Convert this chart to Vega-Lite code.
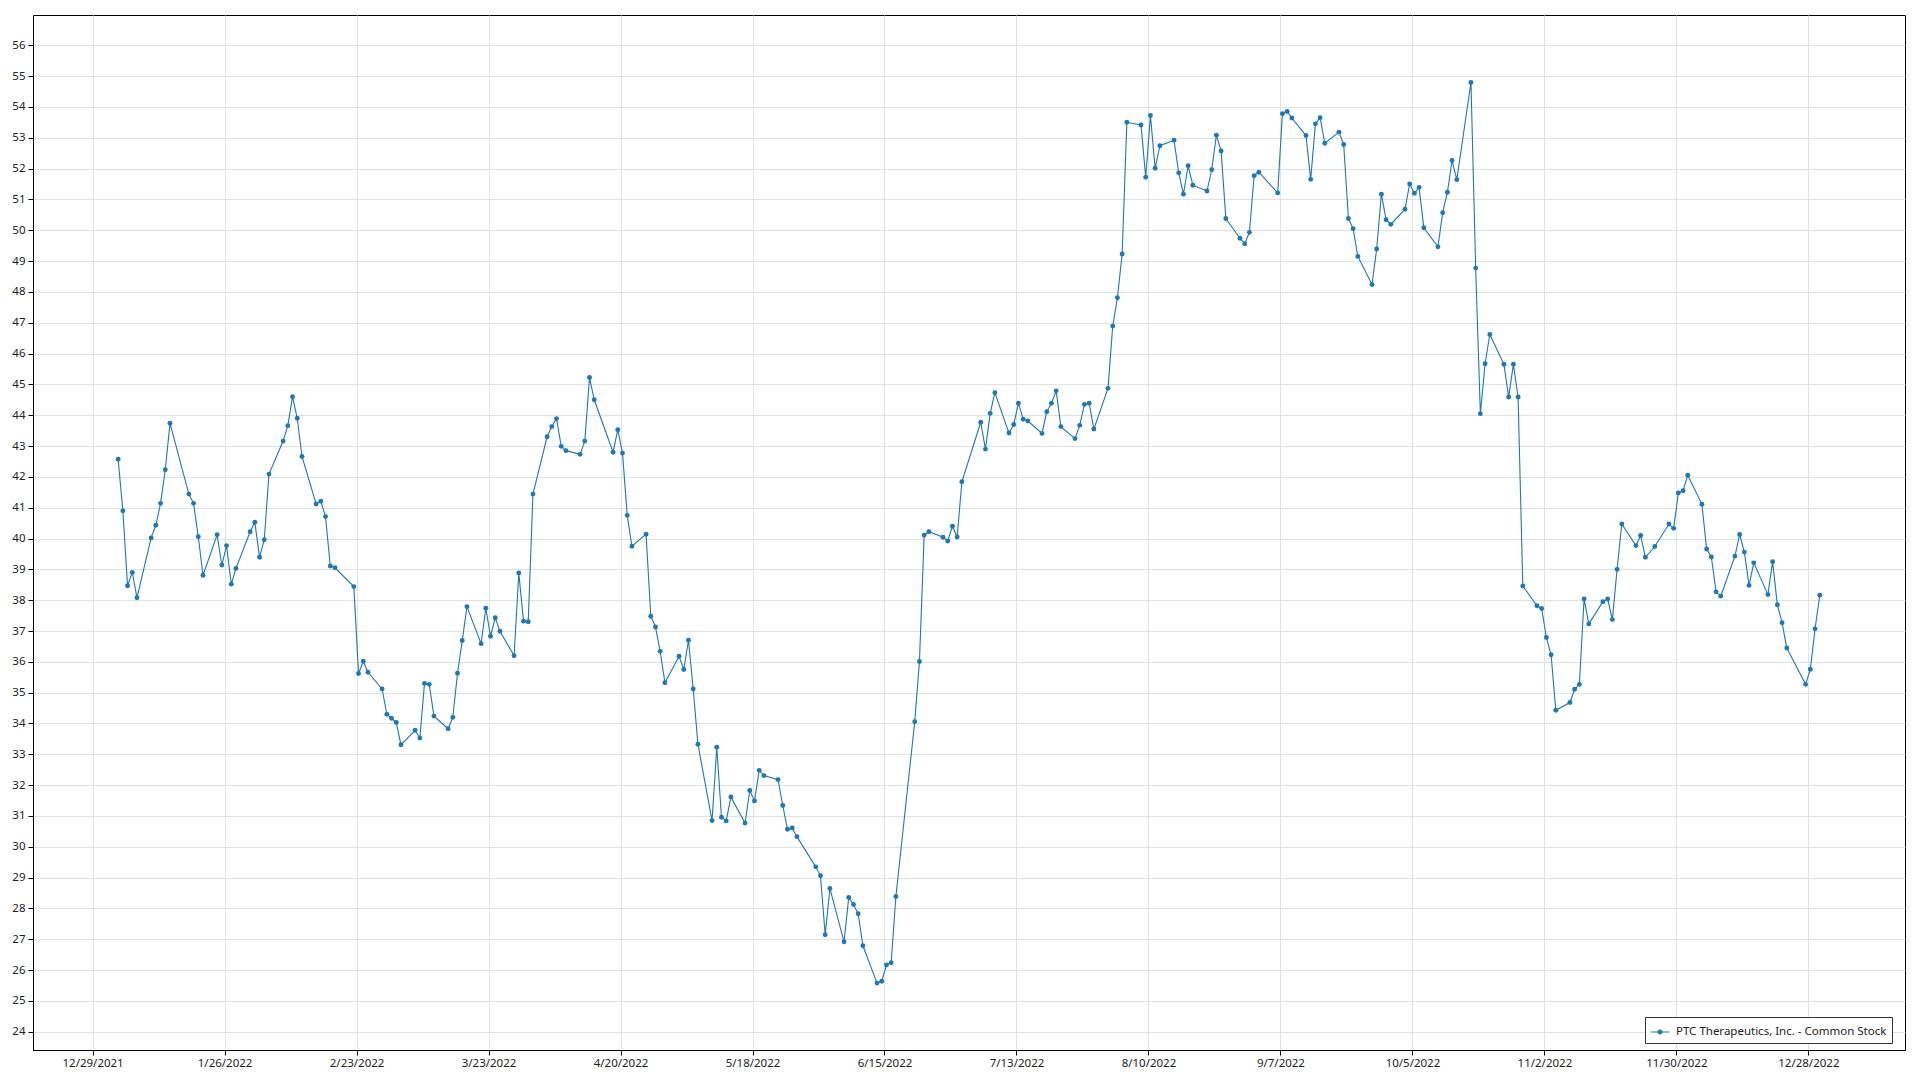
{
  "$schema": "https://vega.github.io/schema/vega-lite/v6.json",
  "width": 1872,
  "height": 1035,
  "autosize": {"type": "none"},
  "padding": {"left": 33, "top": 15, "right": 15, "bottom": 30},
  "background": "#ffffff",
  "config": {
    "view": {"stroke": "#000000", "strokeWidth": 1},
    "font": "Noto Sans",
    "axis": {
      "labelFont": "Noto Sans",
      "labelFontSize": 11.5,
      "labelColor": "#222222",
      "domainColor": "#000000",
      "domainWidth": 1,
      "tickColor": "#000000",
      "gridColor": "#e2e2e2",
      "gridWidth": 1,
      "title": null,
      "labelOverlap": false,
      "labelFlush": false
    }
  },
  "data": {"values": [
    {"d":"2022-01-03T10:00","v":42.57},{"d":"2022-01-04T10:00","v":40.90},{"d":"2022-01-05T10:00","v":38.47},{"d":"2022-01-06T10:00","v":38.90},{"d":"2022-01-07T10:00","v":38.08},
    {"d":"2022-01-10T10:00","v":40.02},{"d":"2022-01-11T10:00","v":40.43},{"d":"2022-01-12T10:00","v":41.14},{"d":"2022-01-13T10:00","v":42.23},{"d":"2022-01-14T10:00","v":43.74},
    {"d":"2022-01-18T10:00","v":41.44},{"d":"2022-01-19T10:00","v":41.14},{"d":"2022-01-20T10:00","v":40.06},{"d":"2022-01-21T10:00","v":38.81},
    {"d":"2022-01-24T10:00","v":40.12},{"d":"2022-01-25T10:00","v":39.14},{"d":"2022-01-26T10:00","v":39.77},{"d":"2022-01-27T10:00","v":38.52},{"d":"2022-01-28T10:00","v":39.03},
    {"d":"2022-01-31T10:00","v":40.22},{"d":"2022-02-01T10:00","v":40.53},{"d":"2022-02-02T10:00","v":39.39},{"d":"2022-02-03T10:00","v":39.96},{"d":"2022-02-04T10:00","v":42.09},
    {"d":"2022-02-07T10:00","v":43.16},{"d":"2022-02-08T10:00","v":43.66},{"d":"2022-02-09T10:00","v":44.60},{"d":"2022-02-10T10:00","v":43.90},{"d":"2022-02-11T10:00","v":42.66},
    {"d":"2022-02-14T10:00","v":41.12},{"d":"2022-02-15T10:00","v":41.21},{"d":"2022-02-16T10:00","v":40.71},{"d":"2022-02-17T10:00","v":39.11},{"d":"2022-02-18T10:00","v":39.05},
    {"d":"2022-02-22T10:00","v":38.44},{"d":"2022-02-23T10:00","v":35.62},{"d":"2022-02-24T10:00","v":36.02},{"d":"2022-02-25T10:00","v":35.66},
    {"d":"2022-02-28T10:00","v":35.12},{"d":"2022-03-01T10:00","v":34.30},{"d":"2022-03-02T10:00","v":34.17},{"d":"2022-03-03T10:00","v":34.03},{"d":"2022-03-04T10:00","v":33.31},
    {"d":"2022-03-07T10:00","v":33.78},{"d":"2022-03-08T10:00","v":33.53},{"d":"2022-03-09T10:00","v":35.30},{"d":"2022-03-10T10:00","v":35.27},{"d":"2022-03-11T10:00","v":34.24},
    {"d":"2022-03-14T10:00","v":33.83},{"d":"2022-03-15T10:00","v":34.20},{"d":"2022-03-16T10:00","v":35.63},{"d":"2022-03-17T10:00","v":36.69},{"d":"2022-03-18T10:00","v":37.79},
    {"d":"2022-03-21T10:00","v":36.59},{"d":"2022-03-22T10:00","v":37.74},{"d":"2022-03-23T10:00","v":36.83},{"d":"2022-03-24T10:00","v":37.43},{"d":"2022-03-25T10:00","v":36.99},
    {"d":"2022-03-28T10:00","v":36.20},{"d":"2022-03-29T10:00","v":38.88},{"d":"2022-03-30T10:00","v":37.32},{"d":"2022-03-31T10:00","v":37.30},{"d":"2022-04-01T10:00","v":41.44},
    {"d":"2022-04-04T10:00","v":43.30},{"d":"2022-04-05T10:00","v":43.63},{"d":"2022-04-06T10:00","v":43.89},{"d":"2022-04-07T10:00","v":42.99},{"d":"2022-04-08T10:00","v":42.85},
    {"d":"2022-04-11T10:00","v":42.73},{"d":"2022-04-12T10:00","v":43.16},{"d":"2022-04-13T10:00","v":45.22},{"d":"2022-04-14T10:00","v":44.50},
    {"d":"2022-04-18T10:00","v":42.80},{"d":"2022-04-19T10:00","v":43.53},{"d":"2022-04-20T10:00","v":42.77},{"d":"2022-04-21T10:00","v":40.75},{"d":"2022-04-22T10:00","v":39.75},
    {"d":"2022-04-25T10:00","v":40.14},{"d":"2022-04-26T10:00","v":37.48},{"d":"2022-04-27T10:00","v":37.13},{"d":"2022-04-28T10:00","v":36.34},{"d":"2022-04-29T10:00","v":35.32},
    {"d":"2022-05-02T10:00","v":36.18},{"d":"2022-05-03T10:00","v":35.75},{"d":"2022-05-04T10:00","v":36.70},{"d":"2022-05-05T10:00","v":35.12},{"d":"2022-05-06T10:00","v":33.33},
    {"d":"2022-05-09T10:00","v":30.85},{"d":"2022-05-10T10:00","v":33.23},{"d":"2022-05-11T10:00","v":30.96},{"d":"2022-05-12T10:00","v":30.84},{"d":"2022-05-13T10:00","v":31.62},
    {"d":"2022-05-16T10:00","v":30.77},{"d":"2022-05-17T10:00","v":31.83},{"d":"2022-05-18T10:00","v":31.49},{"d":"2022-05-19T10:00","v":32.48},{"d":"2022-05-20T10:00","v":32.31},
    {"d":"2022-05-23T10:00","v":32.18},{"d":"2022-05-24T10:00","v":31.34},{"d":"2022-05-25T10:00","v":30.57},{"d":"2022-05-26T10:00","v":30.61},{"d":"2022-05-27T10:00","v":30.33},
    {"d":"2022-05-31T10:00","v":29.35},{"d":"2022-06-01T10:00","v":29.06},{"d":"2022-06-02T10:00","v":27.15},{"d":"2022-06-03T10:00","v":28.65},
    {"d":"2022-06-06T10:00","v":26.92},{"d":"2022-06-07T10:00","v":28.36},{"d":"2022-06-08T10:00","v":28.13},{"d":"2022-06-09T10:00","v":27.83},{"d":"2022-06-10T10:00","v":26.79},
    {"d":"2022-06-13T10:00","v":25.58},{"d":"2022-06-14T10:00","v":25.64},{"d":"2022-06-15T10:00","v":26.17},{"d":"2022-06-16T10:00","v":26.24},{"d":"2022-06-17T10:00","v":28.39},
    {"d":"2022-06-21T10:00","v":34.06},{"d":"2022-06-22T10:00","v":36.01},{"d":"2022-06-23T10:00","v":40.11},{"d":"2022-06-24T10:00","v":40.22},
    {"d":"2022-06-27T10:00","v":40.04},{"d":"2022-06-28T10:00","v":39.92},{"d":"2022-06-29T10:00","v":40.40},{"d":"2022-06-30T10:00","v":40.05},{"d":"2022-07-01T10:00","v":41.84},
    {"d":"2022-07-05T10:00","v":43.77},{"d":"2022-07-06T10:00","v":42.90},{"d":"2022-07-07T10:00","v":44.06},{"d":"2022-07-08T10:00","v":44.73},
    {"d":"2022-07-11T10:00","v":43.42},{"d":"2022-07-12T10:00","v":43.70},{"d":"2022-07-13T10:00","v":44.39},{"d":"2022-07-14T10:00","v":43.87},{"d":"2022-07-15T10:00","v":43.81},
    {"d":"2022-07-18T10:00","v":43.41},{"d":"2022-07-19T10:00","v":44.11},{"d":"2022-07-20T10:00","v":44.39},{"d":"2022-07-21T10:00","v":44.79},{"d":"2022-07-22T10:00","v":43.63},
    {"d":"2022-07-25T10:00","v":43.24},{"d":"2022-07-26T10:00","v":43.67},{"d":"2022-07-27T10:00","v":44.35},{"d":"2022-07-28T10:00","v":44.39},{"d":"2022-07-29T10:00","v":43.55},
    {"d":"2022-08-01T10:00","v":44.87},{"d":"2022-08-02T10:00","v":46.89},{"d":"2022-08-03T10:00","v":47.81},{"d":"2022-08-04T10:00","v":49.23},{"d":"2022-08-05T10:00","v":53.50},
    {"d":"2022-08-08T10:00","v":53.41},{"d":"2022-08-09T10:00","v":51.72},{"d":"2022-08-10T10:00","v":53.72},{"d":"2022-08-11T10:00","v":52.01},{"d":"2022-08-12T10:00","v":52.74},
    {"d":"2022-08-15T10:00","v":52.92},{"d":"2022-08-16T10:00","v":51.86},{"d":"2022-08-17T10:00","v":51.17},{"d":"2022-08-18T10:00","v":52.09},{"d":"2022-08-19T10:00","v":51.46},
    {"d":"2022-08-22T10:00","v":51.27},{"d":"2022-08-23T10:00","v":51.96},{"d":"2022-08-24T10:00","v":53.08},{"d":"2022-08-25T10:00","v":52.57},{"d":"2022-08-26T10:00","v":50.38},
    {"d":"2022-08-29T10:00","v":49.74},{"d":"2022-08-30T10:00","v":49.56},{"d":"2022-08-31T10:00","v":49.93},{"d":"2022-09-01T10:00","v":51.77},{"d":"2022-09-02T10:00","v":51.88},
    {"d":"2022-09-06T10:00","v":51.21},{"d":"2022-09-07T10:00","v":53.78},{"d":"2022-09-08T10:00","v":53.85},{"d":"2022-09-09T10:00","v":53.64},
    {"d":"2022-09-12T10:00","v":53.07},{"d":"2022-09-13T10:00","v":51.65},{"d":"2022-09-14T10:00","v":53.45},{"d":"2022-09-15T10:00","v":53.65},{"d":"2022-09-16T10:00","v":52.82},
    {"d":"2022-09-19T10:00","v":53.18},{"d":"2022-09-20T10:00","v":52.78},{"d":"2022-09-21T10:00","v":50.38},{"d":"2022-09-22T10:00","v":50.05},{"d":"2022-09-23T10:00","v":49.15},
    {"d":"2022-09-26T10:00","v":48.24},{"d":"2022-09-27T10:00","v":49.39},{"d":"2022-09-28T10:00","v":51.17},{"d":"2022-09-29T10:00","v":50.34},{"d":"2022-09-30T10:00","v":50.19},
    {"d":"2022-10-03T10:00","v":50.68},{"d":"2022-10-04T10:00","v":51.50},{"d":"2022-10-05T10:00","v":51.20},{"d":"2022-10-06T10:00","v":51.39},{"d":"2022-10-07T10:00","v":50.08},
    {"d":"2022-10-10T10:00","v":49.46},{"d":"2022-10-11T10:00","v":50.57},{"d":"2022-10-12T10:00","v":51.23},{"d":"2022-10-13T10:00","v":52.26},{"d":"2022-10-14T10:00","v":51.64},
    {"d":"2022-10-17T10:00","v":54.79},{"d":"2022-10-18T10:00","v":48.77},{"d":"2022-10-19T10:00","v":44.05},{"d":"2022-10-20T10:00","v":45.67},{"d":"2022-10-21T10:00","v":46.62},
    {"d":"2022-10-24T10:00","v":45.65},{"d":"2022-10-25T10:00","v":44.59},{"d":"2022-10-26T10:00","v":45.65},{"d":"2022-10-27T10:00","v":44.59},{"d":"2022-10-28T10:00","v":38.46},
    {"d":"2022-10-31T10:00","v":37.82},{"d":"2022-11-01T10:00","v":37.73},{"d":"2022-11-02T10:00","v":36.79},{"d":"2022-11-03T10:00","v":36.23},{"d":"2022-11-04T10:00","v":34.43},
    {"d":"2022-11-07T10:00","v":34.68},{"d":"2022-11-08T10:00","v":35.11},{"d":"2022-11-09T10:00","v":35.27},{"d":"2022-11-10T10:00","v":38.04},{"d":"2022-11-11T10:00","v":37.23},
    {"d":"2022-11-14T10:00","v":37.95},{"d":"2022-11-15T10:00","v":38.04},{"d":"2022-11-16T10:00","v":37.37},{"d":"2022-11-17T10:00","v":39.00},{"d":"2022-11-18T10:00","v":40.47},
    {"d":"2022-11-21T10:00","v":39.77},{"d":"2022-11-22T10:00","v":40.10},{"d":"2022-11-23T10:00","v":39.39},{"d":"2022-11-25T10:00","v":39.74},
    {"d":"2022-11-28T10:00","v":40.47},{"d":"2022-11-29T10:00","v":40.33},{"d":"2022-11-30T10:00","v":41.48},{"d":"2022-12-01T10:00","v":41.55},{"d":"2022-12-02T10:00","v":42.05},
    {"d":"2022-12-05T10:00","v":41.11},{"d":"2022-12-06T10:00","v":39.66},{"d":"2022-12-07T10:00","v":39.40},{"d":"2022-12-08T10:00","v":38.27},{"d":"2022-12-09T10:00","v":38.13},
    {"d":"2022-12-12T10:00","v":39.43},{"d":"2022-12-13T10:00","v":40.13},{"d":"2022-12-14T10:00","v":39.56},{"d":"2022-12-15T10:00","v":38.48},{"d":"2022-12-16T10:00","v":39.21},
    {"d":"2022-12-19T10:00","v":38.18},{"d":"2022-12-20T10:00","v":39.25},{"d":"2022-12-21T10:00","v":37.85},{"d":"2022-12-22T10:00","v":37.27},{"d":"2022-12-23T10:00","v":36.45},
    {"d":"2022-12-27T10:00","v":35.27},{"d":"2022-12-28T10:00","v":35.76},{"d":"2022-12-29T10:00","v":37.07},{"d":"2022-12-30T10:00","v":38.16}
  ]},
  "encoding": {
    "x": {
      "field": "d", "type": "temporal",
      "scale": {"domain": [{"year": 2021, "month": 12, "date": 16, "hours": 8, "minutes": 30}, {"year": 2023, "month": 1, "date": 17, "hours": 12}]},
      "axis": {
        "values": [
          {"year": 2021, "month": 12, "date": 29}, {"year": 2022, "month": 1, "date": 26}, {"year": 2022, "month": 2, "date": 23},
          {"year": 2022, "month": 3, "date": 23}, {"year": 2022, "month": 4, "date": 20}, {"year": 2022, "month": 5, "date": 18},
          {"year": 2022, "month": 6, "date": 15}, {"year": 2022, "month": 7, "date": 13}, {"year": 2022, "month": 8, "date": 10},
          {"year": 2022, "month": 9, "date": 7}, {"year": 2022, "month": 10, "date": 5}, {"year": 2022, "month": 11, "date": 2},
          {"year": 2022, "month": 11, "date": 30}, {"year": 2022, "month": 12, "date": 28}
        ],
        "format": "%-m/%-d/%Y",
        "labelAngle": 0,
        "tickSize": 5,
        "labelPadding": 2
      }
    },
    "y": {
      "field": "v", "type": "quantitative",
      "scale": {"domain": [23.41, 56.98], "zero": false, "nice": false},
      "axis": {
        "values": [24,25,26,27,28,29,30,31,32,33,34,35,36,37,38,39,40,41,42,43,44,45,46,47,48,49,50,51,52,53,54,55,56],
        "tickSize": 5,
        "labelPadding": 3
      }
    },
    "color": {
      "datum": "PTC Therapeutics, Inc. - Common Stock",
      "type": "nominal",
      "scale": {"range": ["#1f77b4"]},
      "legend": {
        "title": null,
        "orient": "none",
        "legendX": 1612,
        "legendY": 1002,
        "fillColor": "#ffffff",
        "strokeColor": "#333333",
        "padding": 5,
        "labelFont": "Noto Sans",
        "labelFontSize": 11.5,
        "labelColor": "#222222",
        "labelOffset": 6,
        "labelLimit": 0,
        "symbolType": "M-1,0L1,0M-0.22,0A0.22,0.22 0 1,0 0.22,0A0.22,0.22 0 1,0 -0.22,0",
        "symbolSize": 361,
        "symbolStrokeWidth": 1,
        "encode": {"symbols": {"update": {"fill": {"value": "#1f77b4"}, "stroke": {"value": "#1f77b4"}, "strokeWidth": {"value": 1}, "opacity": {"value": 1}}}}
      }
    }
  },
  "layer": [
    {"mark": {"type": "line", "strokeWidth": 1.1, "interpolate": "linear"}},
    {"mark": {"type": "point", "filled": true, "size": 24, "opacity": 1}}
  ]
}
